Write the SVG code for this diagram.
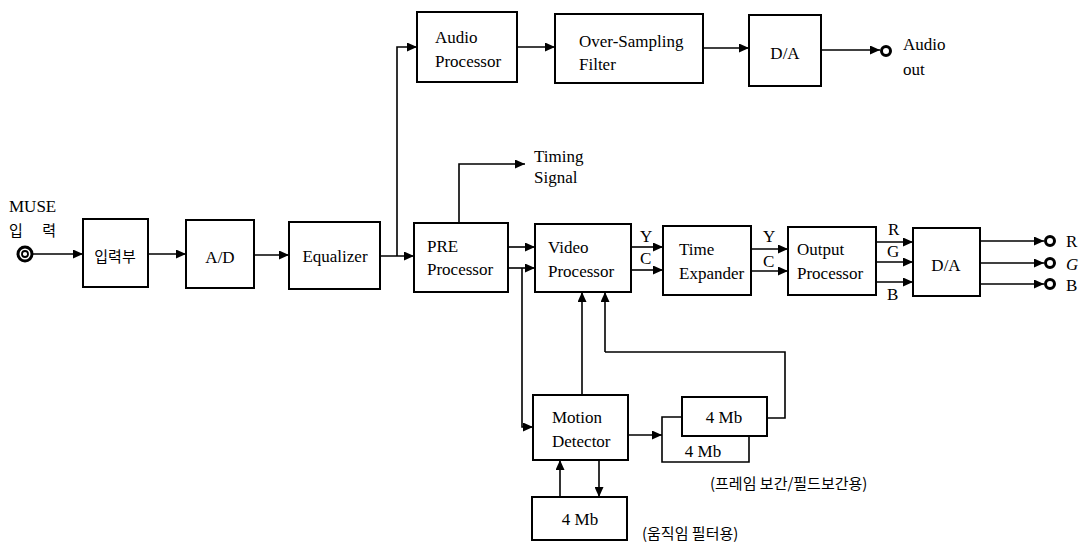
<svg xmlns="http://www.w3.org/2000/svg" width="1079" height="546" viewBox="0 0 1079 546" font-family="'Liberation Serif', 'Times New Roman', serif">
<style>
.box{fill:#fff;stroke:#000;stroke-width:2}
.ln{fill:none;stroke:#000;stroke-width:1.6}
.t{font-family:"Liberation Serif","Times New Roman",serif;font-size:17px;fill:#000}
.c{text-anchor:middle}
.k{font-family:"Noto Sans CJK KR","Noto Sans",sans-serif;font-size:15px;fill:#000}
.jack{fill:none;stroke:#000;stroke-width:3}
</style>
<defs>
<marker id="ar" markerUnits="userSpaceOnUse" markerWidth="11" markerHeight="9" refX="10" refY="4.5" orient="auto">
<path d="M0,0 L10,4.5 L0,9 Z" fill="#000"/>
</marker>
</defs>
<rect width="1079" height="546" fill="#fff"/>

<g id="connectors">
<path class="ln" d="M32,254 H83" marker-end="url(#ar)"/>
<path class="ln" d="M148,254 H186" marker-end="url(#ar)"/>
<path class="ln" d="M254,255 H289" marker-end="url(#ar)"/>
<path class="ln" d="M380,256 H414" marker-end="url(#ar)"/>
<path class="ln" d="M397,256 V47 H417" marker-end="url(#ar)"/>
<path class="ln" d="M517,47 H555" marker-end="url(#ar)"/>
<path class="ln" d="M703,48 H749" marker-end="url(#ar)"/>
<path class="ln" d="M821,50 H880" marker-end="url(#ar)"/>
<path class="ln" d="M459,223 V164 H525" marker-end="url(#ar)"/>
<path class="ln" d="M508,247 H535" marker-end="url(#ar)"/>
<path class="ln" d="M508,268 H535" marker-end="url(#ar)"/>
<path class="ln" d="M522,268 V427 H533" marker-end="url(#ar)"/>
<path class="ln" d="M631,247 H663" marker-end="url(#ar)"/>
<path class="ln" d="M631,270 H663" marker-end="url(#ar)"/>
<path class="ln" d="M751,249 H788" marker-end="url(#ar)"/>
<path class="ln" d="M751,271 H788" marker-end="url(#ar)"/>
<path class="ln" d="M876,242 H913" marker-end="url(#ar)"/>
<path class="ln" d="M876,262 H913" marker-end="url(#ar)"/>
<path class="ln" d="M876,282 H913" marker-end="url(#ar)"/>
<path class="ln" d="M980,241 H1044" marker-end="url(#ar)"/>
<path class="ln" d="M980,263 H1044" marker-end="url(#ar)"/>
<path class="ln" d="M980,284 H1044" marker-end="url(#ar)"/>
<path class="ln" d="M582,395 V292" marker-end="url(#ar)"/>
<path class="ln" d="M605,352 V292" marker-end="url(#ar)"/>
<path class="ln" d="M767,418 H785 V352 H605"/>
<path class="ln" d="M628,435 H662" marker-end="url(#ar)"/>
<path class="ln" d="M560,497 V460" marker-end="url(#ar)"/>
<path class="ln" d="M599,460 V497" marker-end="url(#ar)"/>
</g>

<g id="jack-in">
<circle cx="25" cy="254" r="7" class="jack" stroke-width="2.5"/>
<circle cx="25" cy="254" r="3" fill="none" stroke="#000" stroke-width="1.8"/>
<text class="t" x="9" y="212">MUSE</text>
<text class="k" x="9" y="236" word-spacing="16">입 력</text>
</g>

<g id="input"><rect class="box" x="83" y="219" width="65" height="68"/><text class="k c" x="115" y="262" font-size="16">입력부</text></g>
<g id="ad"><rect class="box" x="186" y="220" width="68" height="68"/><text class="t c" x="220" y="263">A/D</text></g>
<g id="equalizer"><rect class="box" x="289" y="222" width="91" height="67"/><text class="t c" x="335" y="262">Equalizer</text></g>
<g id="pre"><rect class="box" x="414" y="223" width="94" height="69"/><text class="t" x="427" y="252">PRE</text><text class="t" x="427" y="275">Processor</text></g>
<g id="video"><rect class="box" x="535" y="224" width="96" height="68"/><text class="t" x="548" y="253">Video</text><text class="t" x="548" y="277">Processor</text></g>
<g id="expander"><rect class="box" x="663" y="226" width="88" height="69"/><text class="t" x="679" y="255">Time</text><text class="t" x="679" y="279">Expander</text></g>
<g id="output"><rect class="box" x="788" y="227" width="88" height="68"/><text class="t" x="797" y="255">Output</text><text class="t" x="797" y="279">Processor</text></g>
<g id="da-video"><rect class="box" x="913" y="228" width="67" height="68"/><text class="t c" x="946" y="271">D/A</text></g>

<g id="audio"><rect class="box" x="417" y="12" width="100" height="70"/><text class="t" x="435" y="43">Audio</text><text class="t" x="435" y="67">Processor</text></g>
<g id="osf"><rect class="box" x="555" y="14" width="148" height="69"/><text class="t" x="579" y="47">Over-Sampling</text><text class="t" x="579" y="70">Filter</text></g>
<g id="da-audio"><rect class="box" x="749" y="15" width="72" height="71"/><text class="t c" x="785" y="59">D/A</text></g>
<g id="audio-out"><circle cx="886" cy="51" r="4.5" class="jack"/><text class="t" x="903" y="50">Audio</text><text class="t" x="903" y="75">out</text></g>

<g id="timing"><text class="t" x="534" y="162">Timing</text><text class="t" x="534" y="183">Signal</text></g>

<g id="labels-yc">
<text class="t" x="640" y="242">Y</text><text class="t" x="640" y="264">C</text>
<text class="t" x="763" y="242">Y</text><text class="t" x="763" y="267">C</text>
<text class="t" x="888" y="235">R</text><text class="t" x="887" y="257">G</text><text class="t" x="887" y="300">B</text>
</g>

<g id="jacks-rgb">
<circle cx="1050" cy="241" r="4.5" class="jack"/>
<circle cx="1050" cy="263" r="4.5" class="jack"/>
<circle cx="1050" cy="284" r="4.5" class="jack"/>
<text class="t" x="1066" y="247">R</text>
<text class="t" x="1066" y="270" font-style="italic">G</text>
<text class="t" x="1066" y="291">B</text>
</g>

<g id="motion"><rect class="box" x="533" y="395" width="95" height="65"/><text class="t" x="552" y="423">Motion</text><text class="t" x="552" y="447">Detector</text></g>
<g id="mem-frame2"><path class="ln" stroke-width="2" d="M682,417 H662 V462 H749 V436"/><text class="t c" x="703" y="457">4 Mb</text></g>
<g id="mem-frame1"><rect class="box" x="682" y="397" width="85" height="39"/><text class="t c" x="724" y="423">4 Mb</text></g>
<g id="mem-motion"><rect class="box" x="532" y="497" width="95" height="43"/><text class="t c" x="580" y="525">4 Mb</text></g>

<text class="k" x="710" y="489">(프레임 보간/필드보간용)</text>
<text class="k" x="642" y="539">(움직임 필터용)</text>
</svg>
